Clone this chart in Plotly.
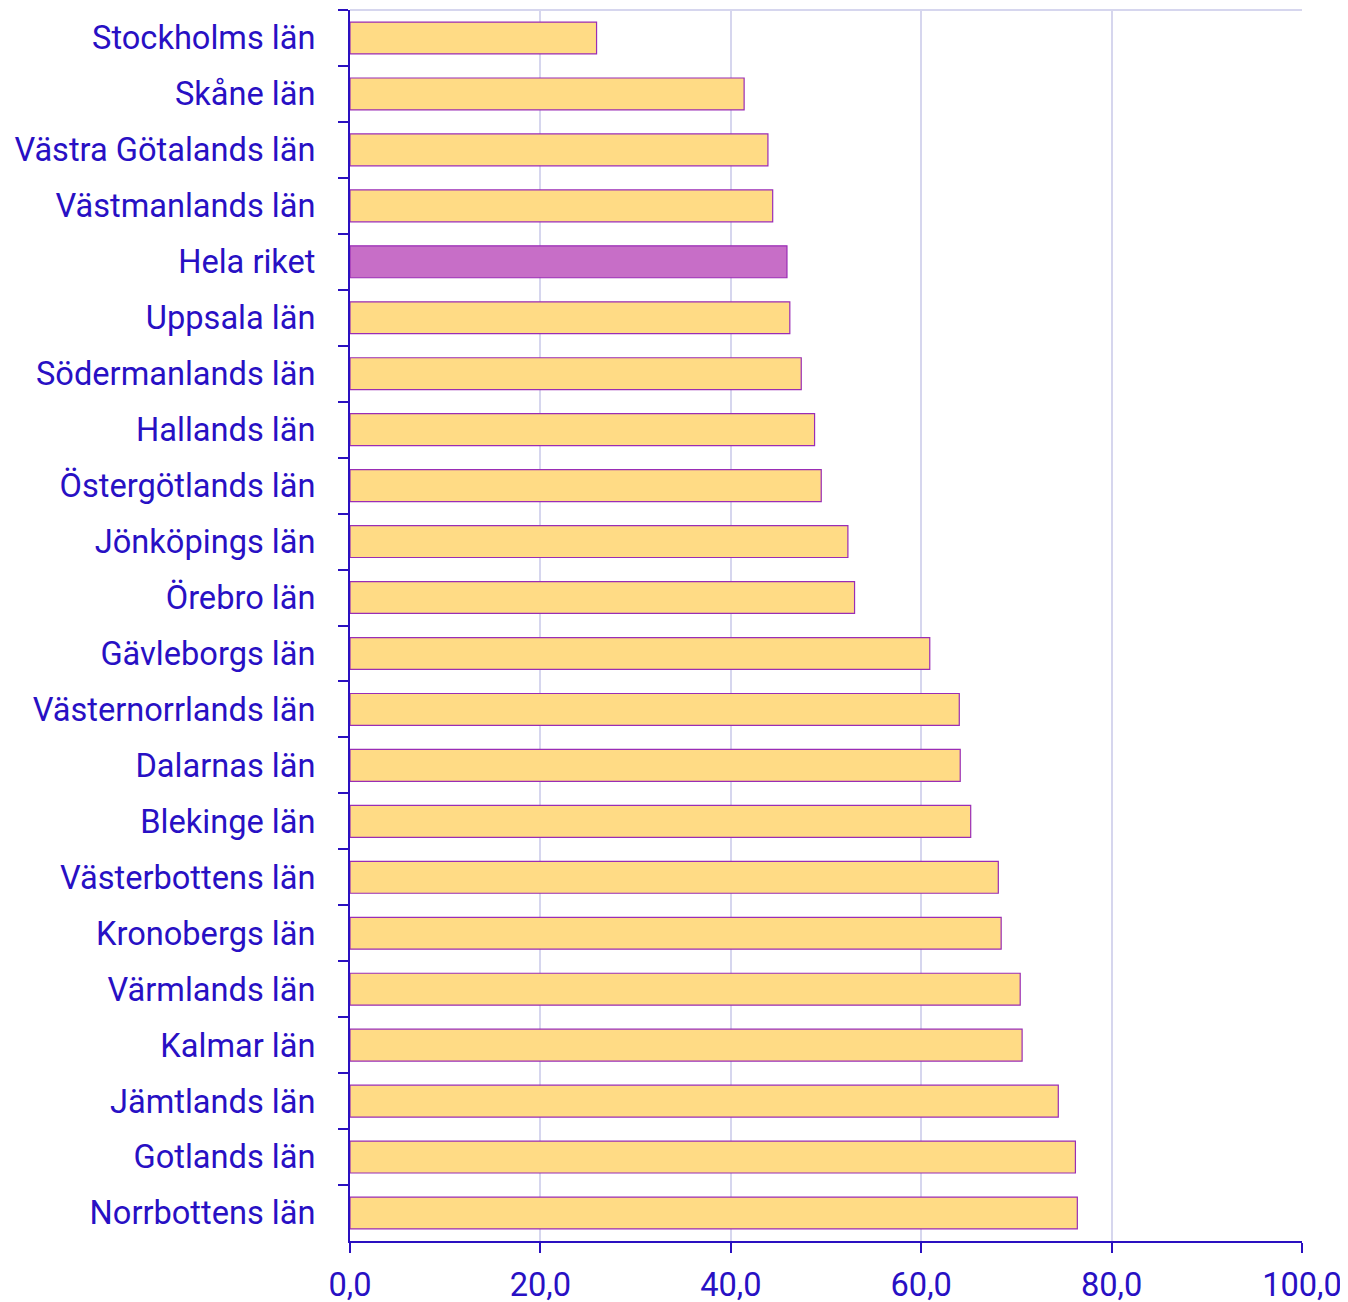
import plotly.graph_objects as go

categories = [
    "Stockholms län", "Skåne län", "Västra Götalands län", "Västmanlands län",
    "Hela riket", "Uppsala län", "Södermanlands län", "Hallands län",
    "Östergötlands län", "Jönköpings län", "Örebro län", "Gävleborgs län",
    "Västernorrlands län", "Dalarnas län", "Blekinge län", "Västerbottens län",
    "Kronobergs län", "Värmlands län", "Kalmar län", "Jämtlands län",
    "Gotlands län", "Norrbottens län",
]
values = [
    25.9, 41.4, 43.9, 44.4, 45.9, 46.2, 47.4, 48.8, 49.5, 52.3, 53.0, 60.9,
    64.0, 64.1, 65.2, 68.1, 68.4, 70.4, 70.6, 74.4, 76.2, 76.4,
]
highlight = "Hela riket"

TEXT = "#2810C4"
AXIS = "#2A10C0"
GRID = "#D6D6EE"
BAR = "#FFDB85"
HI = "#C76EC7"
EDGE = "#9A2DB5"

colors = [HI if c == highlight else BAR for c in categories]

fig = go.Figure(go.Bar(
    x=values, y=categories, orientation="h",
    marker=dict(color=colors, line=dict(color=EDGE, width=1.2)),
))

fig.update_layout(
    width=1340, height=1294,
    margin=dict(l=342, r=46, t=2, b=61),
    paper_bgcolor="white", plot_bgcolor="white",
    separators=",.",
    bargap=0.43,
    showlegend=False,
    font=dict(family="Roboto", size=32.6, color=TEXT),
    shapes=[dict(type="line", xref="paper", yref="paper", x0=0, x1=1, y0=1, y1=1,
                 line=dict(color=GRID, width=2), layer="below")],
)
fig.update_xaxes(
    range=[0, 100], dtick=20, tickformat=".1f",
    showgrid=True, gridcolor=GRID, gridwidth=1.5,
    showline=True, linecolor=AXIS, linewidth=2,
    ticks="outside", ticklen=10, tickwidth=2, tickcolor=AXIS,
    zeroline=False, tickfont=dict(size=32.6, color=TEXT),
    ticklabelstandoff=4, automargin=False,
)
fig.update_yaxes(
    autorange="reversed", tickson="boundaries",
    showline=True, linecolor=AXIS, linewidth=2,
    ticks="outside", ticklen=10, tickwidth=2, tickcolor=AXIS,
    showgrid=False, tickfont=dict(size=32.6, color=TEXT),
    ticklabelstandoff=26, automargin=False,
)

fig.write_html("out.html")
